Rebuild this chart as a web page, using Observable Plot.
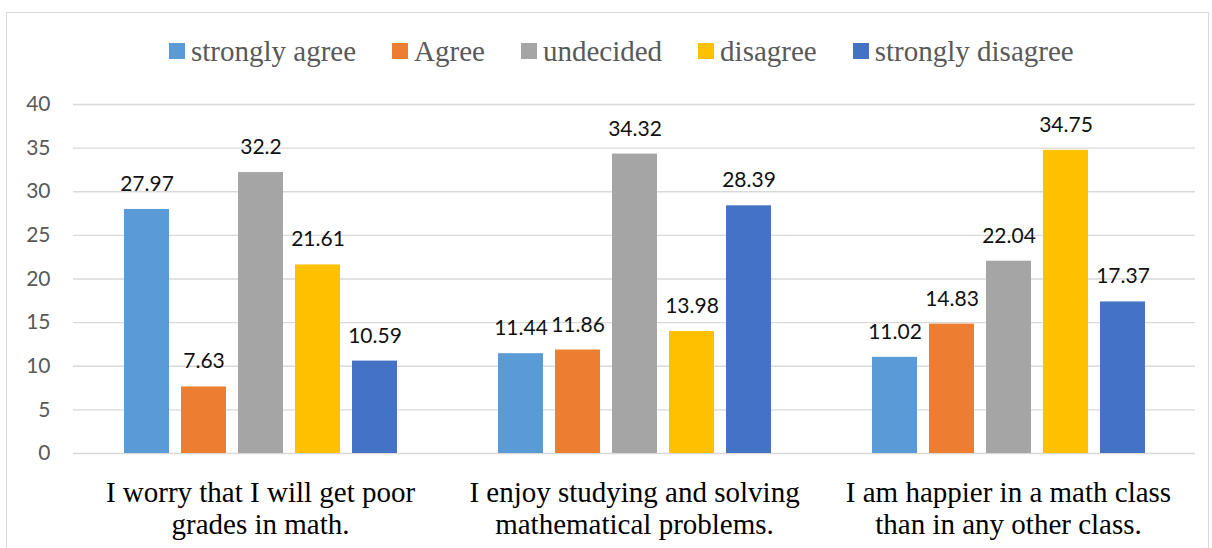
<!DOCTYPE html>
<html><head><meta charset="utf-8">
<script src="https://cdn.jsdelivr.net/npm/d3@7"></script>
<script src="https://cdn.jsdelivr.net/npm/@observablehq/plot@0.6"></script>
<style>
html,body{margin:0;padding:0;background:#fff;overflow:hidden;}
#wrap{position:relative;width:1212px;height:548px;}
#frame{position:absolute;left:6px;top:12px;width:1203px;height:600px;border:1px solid #D9D9D9;box-sizing:border-box;}
#legend{position:absolute;left:169px;top:36px;display:flex;font-family:"Liberation Serif","Times New Roman","DejaVu Serif",serif;font-size:29px;color:#595959;line-height:29px;white-space:nowrap;}
.item{display:flex;align-items:center;margin-right:36px;}
.sw{width:16px;height:16px;margin-right:6px;flex:none;}
.lab{position:relative;top:1px;font-family:"Liberation Serif","Times New Roman","DejaVu Serif",serif;}
#chart{position:absolute;left:0;top:0;}
</style></head><body>
<div id="wrap"><div id="frame"></div><div id="chart"></div><div id="legend"></div></div>
<script>
const categories = [
  "I worry that I will get poor grades in math.",
  "I enjoy studying and solving mathematical problems.",
  "I am happier in a math class than in any other class."
];
const categoryLabels = [
  "I worry that I will get poor\ngrades in math.",
  "I enjoy studying and solving\nmathematical problems.",
  "I am happier in a math class\nthan in any other class."
];
const series = ["strongly agree", "Agree", "undecided", "disagree", "strongly disagree"];
const colors = ["#5B9BD5", "#ED7D31", "#A5A5A5", "#FFC000", "#4472C4"];
const stronglyAgree = [27.97, 11.44, 11.02];
const agree = [7.63, 11.86, 14.83];
const undecided = [32.2, 34.32, 22.04];
const disagree = [21.61, 13.98, 34.75];
const stronglyDisagree = [10.59, 28.39, 17.37];
const yTicks = [0, 5, 10, 15, 20, 25, 30, 35, 40];

const seriesValues = [stronglyAgree, agree, undecided, disagree, stronglyDisagree];
const rows = [];
categories.forEach((c, i) => {
  series.forEach((s, j) => rows.push({category: c, series: s, value: seriesValues[j][i]}));
});
const labelRows = categories.map((c, i) => ({category: c, label: categoryLabels[i]}));

const chart = Plot.plot({
  width: 1212,
  height: 548,
  marginLeft: 72,
  marginRight: 16,
  marginTop: 104,
  marginBottom: 95,
  style: {fontFamily: "Lato, 'Open Sans', sans-serif", fontSize: "21px", background: "transparent"},
  fx: {domain: categories, padding: 0, axis: null},
  x: {domain: series, paddingInner: 0.219, paddingOuter: 0.87, axis: null},
  y: {domain: [0, 40], axis: null},
  color: {domain: series, range: colors},
  marks: [
    Plot.gridY(yTicks, {stroke: "#D9D9D9", strokeOpacity: 1, strokeWidth: 1.3}),
    Plot.axisY(yTicks, {anchor: "left", label: null, tickSize: 0, tickPadding: 23, color: "#595959", fontSize: 21, tickFormat: d => String(d)}),
    Plot.barY(rows, {fx: "category", x: "series", y: "value", fill: "series"}),
    Plot.text(rows, {fx: "category", x: "series", y: "value", text: d => String(d.value), lineAnchor: "bottom", dy: -18.5, fill: "#111", fontSize: 21}),
    Plot.text(labelRows, {fx: "category", text: "label", frameAnchor: "bottom", lineAnchor: "top", dy: 26, fontFamily: "'Liberation Serif', 'Times New Roman', serif", fontSize: 29, lineHeight: 1.1, fill: "#000"})
  ]
});
document.getElementById("chart").appendChild(chart);

const legend = document.getElementById("legend");
series.forEach((s, j) => {
  const item = document.createElement("div");
  item.className = "item";
  const sw = document.createElement("div");
  sw.className = "sw";
  sw.style.background = colors[j];
  const lab = document.createElement("span");
  lab.className = "lab";
  lab.textContent = s;
  item.appendChild(sw);
  item.appendChild(lab);
  legend.appendChild(item);
});
</script>
</body></html>
